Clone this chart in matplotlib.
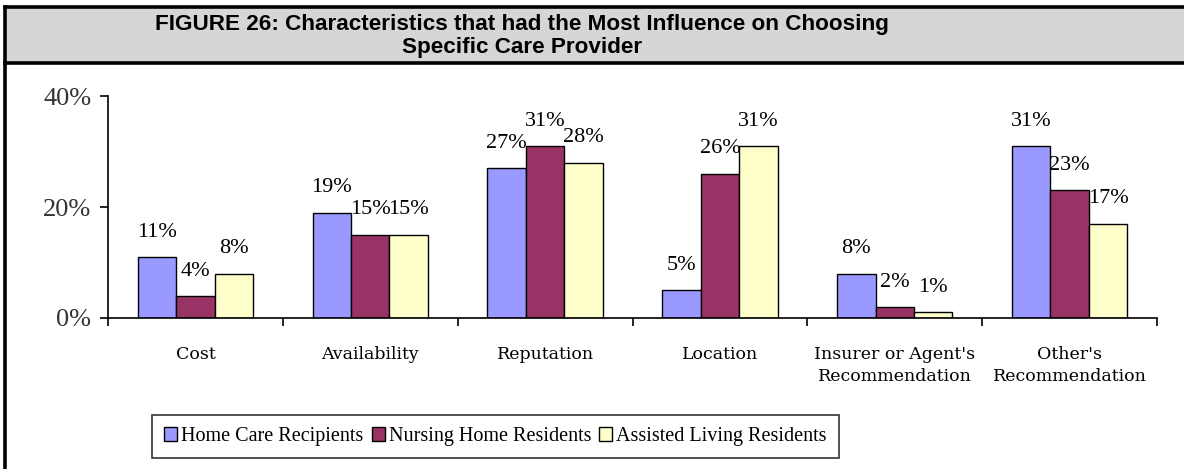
import matplotlib

matplotlib.use("Agg")
import matplotlib.pyplot as plt
import numpy as np
from matplotlib.lines import Line2D
from matplotlib.patches import Rectangle

W, H = 1184, 469  # output size (px)

categories = [
    "Cost",
    "Availability",
    "Reputation",
    "Location",
    "Insurer or Agent's\nRecommendation",
    "Other's\nRecommendation",
]
series = ["Home Care Recipients", "Nursing Home Residents", "Assisted Living Residents"]
home_care = [11, 19, 27, 5, 8, 31]
nursing_home = [4, 15, 31, 26, 2, 23]
assisted_living = [8, 15, 28, 31, 1, 17]
colors = ["#9999FF", "#993366", "#FFFFCC"]
yticks = [0, 20, 40]

SERIF = "Liberation Serif"


def px_x(x):
    return x / W


def px_y(y):
    return 1 - y / H


fig = plt.figure(figsize=(W / 100, H / 100), dpi=100)

# ── title band ───────────────────────────────────────────────────────────────
band = Rectangle((px_x(5), px_y(63)), 1.0, px_y(7) - px_y(63),
                 transform=fig.transFigure, facecolor="#D6D6D6",
                 edgecolor="none", zorder=0)
fig.patches.append(band)
for xs, ys in [((5, W), (7, 7)), ((5, W), (63, 63)), ((5, 5), (7, H))]:
    fig.add_artist(Line2D([px_x(v) for v in xs], [px_y(v) for v in ys],
                          transform=fig.transFigure, color="black", lw=2.6))
fig.text(px_x(522), px_y(36),
         "FIGURE 26: Characteristics that had the Most Influence on Choosing\n"
         "Specific Care Provider",
         ha="center", va="center", fontsize=16.2, fontweight="bold",
         family="Liberation Sans", linespacing=1.08)

# ── bars ─────────────────────────────────────────────────────────────────────
ax = fig.add_axes([px_x(108), px_y(318), px_x(1157) - px_x(108),
                   px_y(96) - px_y(318)])
x = np.arange(len(categories)) + 0.5
bw = 0.22
for i, (vals, col) in enumerate(zip([home_care, nursing_home, assisted_living],
                                    colors)):
    bars = ax.bar(x + (i - 1) * bw, vals, bw, color=col, edgecolor="black",
                  lw=1.0, label=series[i], zorder=2)
    for b, v in zip(bars, vals):
        ax.annotate(f"{v}%", (b.get_x() + b.get_width() / 2, v),
                    xytext=(0, 11), textcoords="offset points",
                    ha="center", va="bottom", fontsize=16, family=SERIF)

ax.set_xlim(0, len(categories))
ax.set_ylim(0, 40)
ax.set_yticks(yticks)
ax.set_yticklabels([f"{v}%" for v in yticks], fontsize=19, family=SERIF,
                   color="#333333")
ax.set_xticks(np.arange(len(categories) + 1))
ax.set_xticklabels([])
ax.set_xticks(x, minor=True)
ax.set_xticklabels(categories, minor=True, fontsize=12.5, family="DejaVu Serif",
                   linespacing=1.4)
ax.tick_params(axis="x", which="minor", length=0, pad=20)
ax.tick_params(axis="x", which="major", length=6, width=1.2, direction="out")
ax.tick_params(axis="y", length=6, width=1.2, direction="out", pad=6)
for s in ("top", "right"):
    ax.spines[s].set_visible(False)
for s in ("left", "bottom"):
    ax.spines[s].set_linewidth(1.2)

# ── legend ───────────────────────────────────────────────────────────────────
leg = fig.legend(loc="lower left", bbox_to_anchor=(px_x(152), px_y(458)),
                 ncol=3, frameon=True, fancybox=False, edgecolor="black",
                 prop={"family": SERIF, "size": 14.5}, handlelength=0.65,
                 handleheight=0.65, handletextpad=0.2, columnspacing=0.4,
                 borderpad=0.6, borderaxespad=0)
leg.get_frame().set_linewidth(1.2)

fig.savefig("out.png", dpi=100)
